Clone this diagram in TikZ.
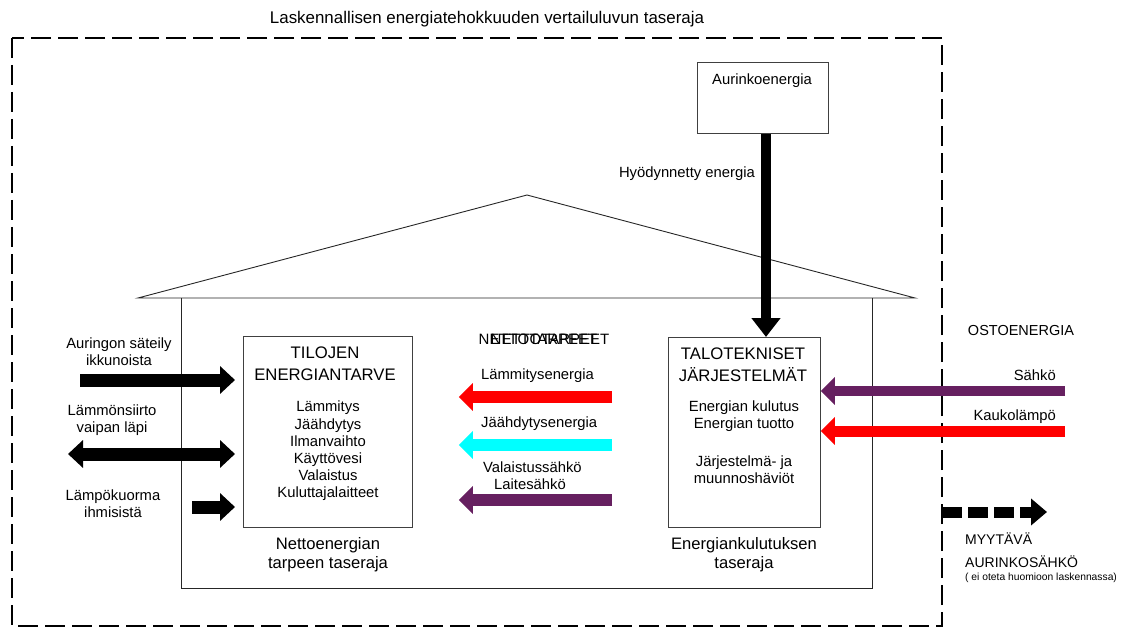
\documentclass[tikz,border=0pt]{standalone}
\usepackage{fontspec}
\setmainfont{Liberation Sans}
\usetikzlibrary{arrows.meta}
\definecolor{purp}{RGB}{102,32,96}
\definecolor{cyn}{RGB}{0,255,255}
\definecolor{rd}{RGB}{255,0,0}
\begin{document}
\begin{tikzpicture}[x=1pt,y=-1pt,
  txt/.style={inner sep=0pt, font=\fontsize{14.8}{17.2}\selectfont, align=center},
  lbl/.style={inner sep=0pt, font=\fontsize{16.6}{18.8}\selectfont, align=center},
  hd/.style={inner sep=0pt, font=\fontsize{16.7}{22}\selectfont, align=center},
  capt/.style={inner sep=0pt, font=\fontsize{14.5}{19}\selectfont},
  smalltxt/.style={inner sep=0pt, font=\fontsize{10.3}{12}\selectfont},
  box/.style={draw=black!75, line width=0.9pt, inner sep=0pt},
  fat/.style={line width=13pt, -{Triangle[length=15pt,width=27pt]}},
  fatd/.style={line width=13pt, {Triangle[length=15pt,width=27pt]}-{Triangle[length=15pt,width=27pt]}},
  mid/.style={line width=12pt, -{Triangle[length=14pt,width=27pt]}},
  fatv/.style={line width=10pt, -{Triangle[length=19pt,width=28pt]}},
  boundary/.style={line width=1.5pt, dash pattern=on 20pt off 7pt},
  wall/.style={line width=0.9pt, draw=black!85}
]
\useasboundingbox (0,0) rectangle (1131,628);

% outer calculation boundary
\draw[boundary] (12,38) rectangle (942,626);
\node[inner sep=0pt, font=\fontsize{16.9}{20}\selectfont] (title) at (487,19) {Laskennallisen energiatehokkuuden vertailuluvun taseraja};

% house
\draw[wall] (138,298) -- (527,195) -- (915,298) -- cycle;
\draw[wall] (181,298) -- (181,588) -- (872,588) -- (872,298);

% boxes
\node[box, minimum width=169pt, minimum height=191pt, anchor=north west] (til) at (243,336) {};
\node[box, minimum width=152pt, minimum height=190pt, anchor=north west] (tal) at (668,337) {};
\node[box, minimum width=131pt, minimum height=71pt, anchor=north west] (aur) at (697,62) {};

% box texts
\node[txt] (aurt) at (762,81) {Aurinkoenergia};
\node[hd] (tilh) at (325,364) {TILOJEN\\ENERGIANTARVE};
\node[txt] (tili) at (328,451) {Lämmitys\\Jäähdytys\\Ilmanvaihto\\Käyttövesi\\Valaistus\\Kuluttajalaitteet};
\node[hd] (talh) at (743,365) {TALOTEKNISET\\JÄRJESTELMÄT};
\node[txt] (tali1) at (744,416.5) {Energian kulutus\\Energian tuotto};
\node[txt] (tali2) at (744,469.5) {Järjestelmä- ja\\muunnoshäviöt};
\node[lbl] (tilb) at (328,555) {Nettoenergian\\tarpeen taseraja};
\node[lbl] (talb) at (744,555) {Energiankulutuksen\\taseraja};

% solar energy
\coordinate (vx) at (766,0);
\draw[fatv] (aur.south -| vx) -- (tal.north -| vx);
\node[txt, anchor=east] (hyo) at (755,174) {Hyödynnetty energia};

% left side flows
\coordinate (a1) at (80,380);
\coordinate (a2) at (68,454);
\coordinate (a3) at (192,507);
\draw[fat] (a1) -- ([xshift=-8pt]til.west |- a1);
\draw[fatd] (a2) -- ([xshift=-8pt]til.west |- a2);
\draw[fat] (a3) -- ([xshift=-8pt]til.west |- a3);
\node[txt] (l1) at (119,352) {Auringon säteily\\ikkunoista};
\node[txt] (l2) at (112,420) {Lämmönsiirto\\vaipan läpi};
\node[txt] (l3) at (113,504) {Lämpökuorma\\ihmisistä};

% net needs (printed twice, slightly offset, as in the original)
\node[capt, font=\fontsize{15}{19}\selectfont] (nt1) at (538,339) {NETTOTARPEET};
\node[capt, font=\fontsize{15}{19}\selectfont] (nt2) at (550,339) {NETTOTARPEET};
\coordinate (m1) at (612,397);
\coordinate (m2) at (612,445);
\coordinate (m3) at (612,500);
\draw[mid, draw=rd] (m1) -- ([xshift=46pt]til.east |- m1);
\draw[mid, draw=cyn] (m2) -- ([xshift=46pt]til.east |- m2);
\draw[mid, draw=purp] (m3) -- ([xshift=46pt]til.east |- m3);
\node[txt, anchor=west] (n1) at (481,376) {Lämmitysenergia};
\node[txt, anchor=west] (n2) at (481,424) {Jäähdytysenergia};
\node[txt, anchor=west] (n3) at (483,467) {Valaistussähkö};
\node[txt, anchor=west] (n4) at (494,484) {Laitesähkö};

% purchased energy
\node[capt] (oe) at (1021,331) {OSTOENERGIA};
\coordinate (r1) at (1065,391);
\coordinate (r2) at (1065,431);
\draw[line width=10pt, draw=purp, -{Triangle[length=14pt,width=27pt]}] (r1) -- (tal.east |- r1);
\draw[line width=11pt, draw=rd, -{Triangle[length=14pt,width=27pt]}] (r2) -- (tal.east |- r2);
\node[txt, anchor=east] (s1) at (1056,375) {Sähkö};
\node[txt, anchor=east] (s2) at (1056,417) {Kaukolämpö};

% exported solar electricity
\coordinate (e1) at (942,512);
\coordinate (e2) at (1047,512);
\draw[line width=11pt, dash pattern=on 20pt off 6pt, -{Triangle[length=16pt,width=26pt]}] (e1) -- (e2);
\node[capt, anchor=west, font=\fontsize{14}{18}\selectfont] (my1) at (965,539) {MYYTÄVÄ};
\node[capt, anchor=west, font=\fontsize{14}{18}\selectfont] (my2) at (965,562) {AURINKOSÄHKÖ};
\node[smalltxt, anchor=west] (my3) at (965,578) {( ei oteta huomioon laskennassa)};
\end{tikzpicture}
\end{document}
